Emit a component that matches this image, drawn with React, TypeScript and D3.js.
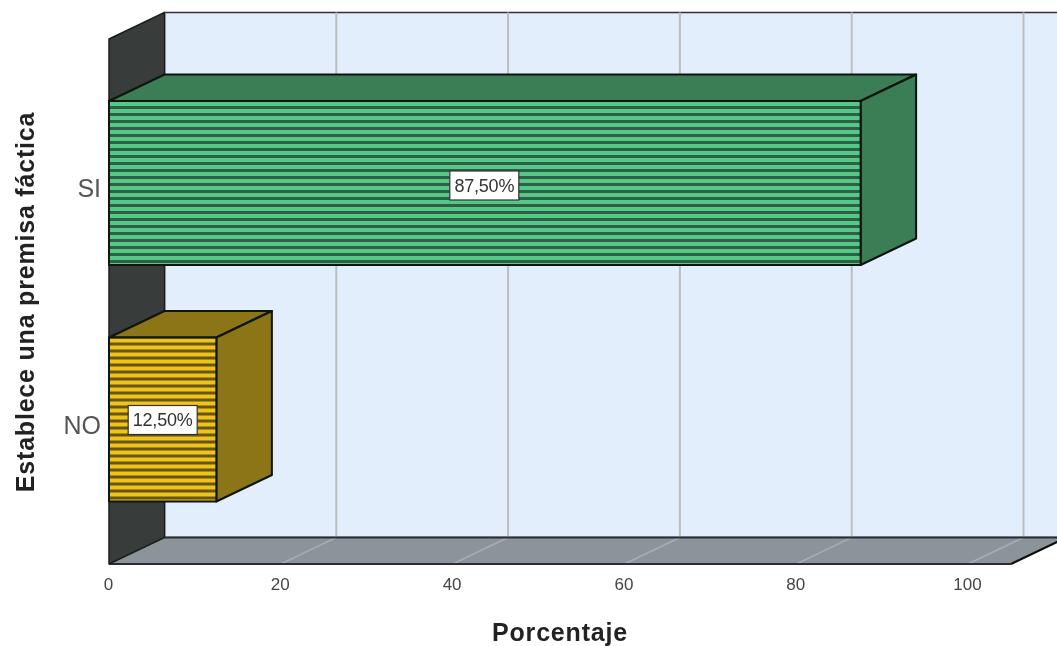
import React from "react";
import * as d3 from "d3";

const categories = ["SI", "NO"];
const percentages = [87.5, 12.5];
const valueLabels = ["87,50%", "12,50%"];
const xTicks = [0, 20, 40, 60, 80, 100];
const frontFills = ["#55c887", "#efc31a"];
const stripeFills = ["#2f6146", "#665510"];
const sideFills = ["#3a7d55", "#8c7412"];

const W = 1057, H = 646;
const dx = 55.5, dy = -26.5;
const floorY = 564, topY = 39;
const axisMax = 105;
const barHeight = 164;

const x = d3.scaleLinear().domain([0, 100]).range([109, 968]);
const y = d3.scalePoint<string>().domain(categories).range([183, 419.5]);
const pts = (p: number[][]) => p.map(q => q.join(",")).join(" ");
const font = "'Liberation Sans', Arial, sans-serif";

export default function App() {
  const x0 = x(0);
  const xEnd = x(axisMax);
  return (
    <svg width={W} height={H} viewBox={`0 0 ${W} ${H}`}
      style={{ position: "absolute", left: 0, top: 0, display: "block", fontFamily: font }}>
      <defs>
        <filter id="soft" x="-2%" y="-2%" width="104%" height="104%">
          <feGaussianBlur stdDeviation="0.6" />
        </filter>
        {categories.map((c, i) => (
          <pattern key={c} id={`st${i}`} patternUnits="userSpaceOnUse" width="8" height="7" y={y(c)! - barHeight / 2 + 1}>
            <rect width="8" height="7" fill={frontFills[i]} />
            <rect y="4" width="8" height="3" fill={stripeFills[i]} />
          </pattern>
        ))}
      </defs>
      <rect width={W} height={H} fill="#fff" />
      <g filter="url(#soft)">
        {/* back wall */}
        <rect x={x0 + dx} y={topY + dy} width={W} height={floorY - topY} fill="#e2eefb" stroke="#333" strokeWidth="1.5" />
        {xTicks.map(t => (
          <line key={t} x1={x(t) + dx} x2={x(t) + dx} y1={topY + dy} y2={floorY + dy} stroke="#bdbdbd" strokeWidth="2" />
        ))}
        {/* floor */}
        <polygon points={pts([[x0, floorY], [x0 + dx, floorY + dy], [xEnd + dx, floorY + dy], [xEnd, floorY]])}
          fill="#8b939b" />
        {xTicks.map(t => (
          <line key={t} x1={x(t)} x2={x(t) + dx} y1={floorY} y2={floorY + dy} stroke="#a9aeb3" strokeWidth="1.5" />
        ))}
        <line x1={x0 + dx} x2={W} y1={floorY + dy} y2={floorY + dy} stroke="#2b2f33" strokeWidth="2" />
        <line x1={x0} x2={xEnd} y1={floorY} y2={floorY} stroke="#2b2f33" strokeWidth="2" />
        <line x1={xEnd} x2={xEnd + dx} y1={floorY} y2={floorY + dy} stroke="#111" strokeWidth="2" />
        {/* left wall */}
        <polygon points={pts([[x0, topY], [x0 + dx, topY + dy], [x0 + dx, floorY + dy], [x0, floorY]])}
          fill="#393e3b" stroke="#1c1c1c" strokeWidth="1.5" strokeLinejoin="round" />
        {/* bars */}
        {categories.map((c, i) => {
          const xr = x(percentages[i]);
          const top = y(c)! - barHeight / 2;
          const bot = top + barHeight;
          return (
            <g key={c} stroke="#0d130f" strokeWidth="2" strokeLinejoin="round">
              <polygon points={pts([[x0, top], [x0 + dx, top + dy], [xr + dx, top + dy], [xr, top]])} fill={sideFills[i]} />
              <polygon points={pts([[xr, top], [xr + dx, top + dy], [xr + dx, bot + dy], [xr, bot]])} fill={sideFills[i]} />
              <rect x={x0} y={top} width={xr - x0} height={barHeight} fill={`url(#st${i})`} />
            </g>
          );
        })}
        {/* value labels */}
        {categories.map((c, i) => {
          const cx = (x0 + x(percentages[i])) / 2 + (i === 0 ? -0.5 : 0);
          const cy = y(c)! + (i === 0 ? 2.5 : 0.5);
          return (
            <g key={c}>
              <rect x={cx - 34.5} y={cy - 14.5} width={69} height={29} fill="#fff" stroke="#333" strokeWidth="1.2" />
              <text x={cx} y={cy + 6} textAnchor="middle" fontSize="18" letterSpacing="-0.2" fill="#333">{valueLabels[i]}</text>
            </g>
          );
        })}
        {/* category labels */}
        {categories.map(c => (
          <text key={c} x={101} y={y(c)! + 14} textAnchor="end" fontSize="25" fill="#555">{c}</text>
        ))}
        {/* x ticks */}
        {xTicks.map(t => (
          <text key={t} x={x(t) - 0.5} y={590} textAnchor="middle" fontSize="17" fill="#444">{t}</text>
        ))}
        <text x={560} y={641} textAnchor="middle" fontSize="25" fontWeight="700" letterSpacing="0.8" fill="#222">Porcentaje</text>
        <text transform="translate(34,302) rotate(-90)" textAnchor="middle" fontSize="25" fontWeight="700" letterSpacing="0.8" fill="#222">Establece una premisa fáctica</text>
      </g>
    </svg>
  );
}
